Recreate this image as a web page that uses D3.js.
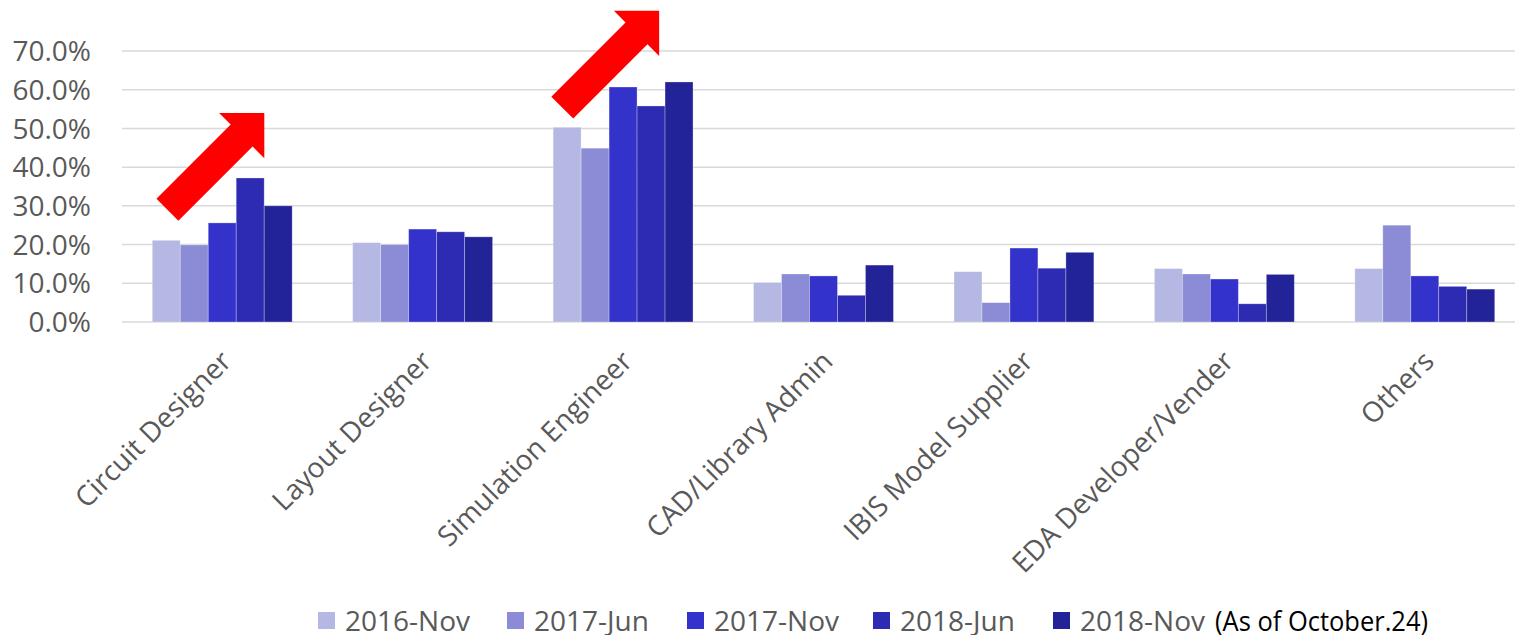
<!DOCTYPE html>
<html lang="en">
<head>
    <meta charset="UTF-8">
    <title>Respondents by role</title>
    <script src="https://d3js.org/d3.v7.min.js"></script>
    <style>
        body { margin: 0; background: #fff; }
        text { font-family: "Open Sans", sans-serif; }
    </style>
</head>
<body>
    <div id="chart"></div>

    <script>
        // Data (percent)
        const categories = ["Circuit Designer", "Layout Designer", "Simulation Engineer",
            "CAD/Library Admin", "IBIS Model Supplier", "EDA Developer/Vender", "Others"];
        const seriesNames = ["2016-Nov", "2017-Jun", "2017-Nov", "2018-Jun", "2018-Nov"];
        const nov2016 = [21.1, 20.5, 50.3, 10.2, 13.0, 13.8, 13.8];
        const jun2017 = [19.9, 20.0, 44.9, 12.4, 5.0, 12.4, 25.0];
        const nov2017 = [25.6, 24.0, 60.7, 11.9, 19.1, 11.1, 11.9];
        const jun2018 = [37.2, 23.3, 55.8, 6.9, 13.9, 4.7, 9.2];
        const nov2018 = [30.0, 22.0, 62.0, 14.7, 18.0, 12.3, 8.5];
        const yTicks = [0, 10, 20, 30, 40, 50, 60, 70];
        const legendNote = "(As of October.24)";

        // red "trend" arrows: category, where along the band, value at the tip
        const arrows = [
            { cat: "Circuit Designer", at: 0.71, value: 54.0 },
            { cat: "Simulation Engineer", at: 0.68, value: 80.4 }
        ];

        const seriesValues = [nov2016, jun2017, nov2017, jun2018, nov2018];
        const colors = ["#b6b8e4", "#8b8bd6", "#3333cc", "#2d2bb2", "#232398"];

        const W = 1517, H = 635;
        const plot = { left: 122, right: 1515, top: 51, bottom: 322 };

        const svg = d3.select("#chart").append("svg")
            .attr("width", W)
            .attr("height", H);

        const x = d3.scaleBand()
            .domain(categories)
            .range([plot.left, 1525])
            .padding(0);

        const xInner = d3.scaleBand()
            .domain(seriesNames)
            .range([x.bandwidth() * 0.151, x.bandwidth() * 0.849])
            .padding(0);

        const y = d3.scaleLinear()
            .domain([0, 70])
            .range([plot.bottom, plot.top]);

        // gridlines
        svg.append("g")
            .selectAll("line")
            .data(yTicks)
            .join("line")
            .attr("x1", plot.left)
            .attr("x2", plot.right)
            .attr("y1", d => y(d))
            .attr("y2", d => y(d))
            .attr("stroke", "#d9d9d9")
            .attr("stroke-width", 1.5);

        // y labels
        svg.append("g")
            .selectAll("text")
            .data(yTicks)
            .join("text")
            .attr("x", 91)
            .attr("y", d => y(d))
            .attr("dy", "0.36em")
            .attr("text-anchor", "end")
            .attr("fill", "#595959")
            .style("font-size", "28px")
            .text(d => d3.format(".1f")(d) + "%");

        // bars
        const groups = svg.append("g")
            .selectAll("g")
            .data(categories)
            .join("g")
            .attr("transform", d => `translate(${x(d)},0)`);

        groups.selectAll("rect")
            .data((c, i) => seriesNames.map((s, j) => ({ s, j, v: seriesValues[j][i] })))
            .join("rect")
            .attr("x", d => xInner(d.s))
            .attr("width", xInner.bandwidth())
            .attr("y", d => y(d.v))
            .attr("height", d => y(0) - y(d.v))
            .attr("fill", d => colors[d.j])
            .attr("stroke", "#ffffff")
            .attr("stroke-opacity", 0.35)
            .attr("stroke-width", 0.8);

        // category labels, rotated
        svg.append("g")
            .selectAll("text")
            .data(categories)
            .join("text")
            .attr("transform", d => `translate(${x(d) + x.bandwidth() / 2 + 11},${plot.bottom + 41}) rotate(-45)`)
            .attr("text-anchor", "end")
            .attr("fill", "#595959")
            .style("font-size", "28px")
            .text(d => d);

        // arrows
        const arrowShape = [[0, 0], [-32, -32], [-32, -15.5], [-137, -15.5],
            [-137, 15.5], [-32, 15.5], [-32, 32]];
        svg.append("g")
            .selectAll("polygon")
            .data(arrows)
            .join("polygon")
            .attr("points", arrowShape.map(p => p.join(",")).join(" "))
            .attr("transform", d => `translate(${x(d.cat) + x.bandwidth() * d.at},${y(d.value)}) rotate(-45)`)
            .attr("fill", "#ff0000");

        // legend
        const legendX = [318, 507, 687, 873, 1053];
        const legend = svg.append("g")
            .selectAll("g")
            .data(seriesNames)
            .join("g")
            .attr("transform", (d, i) => `translate(${legendX[i]},612)`);

        legend.append("rect")
            .attr("width", 17)
            .attr("height", 17)
            .attr("fill", (d, i) => colors[i]);

        legend.append("text")
            .attr("x", 27)
            .attr("y", 19)
            .attr("fill", "#595959")
            .style("font-size", "28px")
            .text(d => d);

        svg.append("text")
            .attr("x", 1215)
            .attr("y", 631)
            .attr("fill", "#000")
            .attr("textLength", 213)
            .attr("lengthAdjust", "spacingAndGlyphs")
            .style("font-size", "27px")
            .text(legendNote);
    </script>
</body>
</html>
